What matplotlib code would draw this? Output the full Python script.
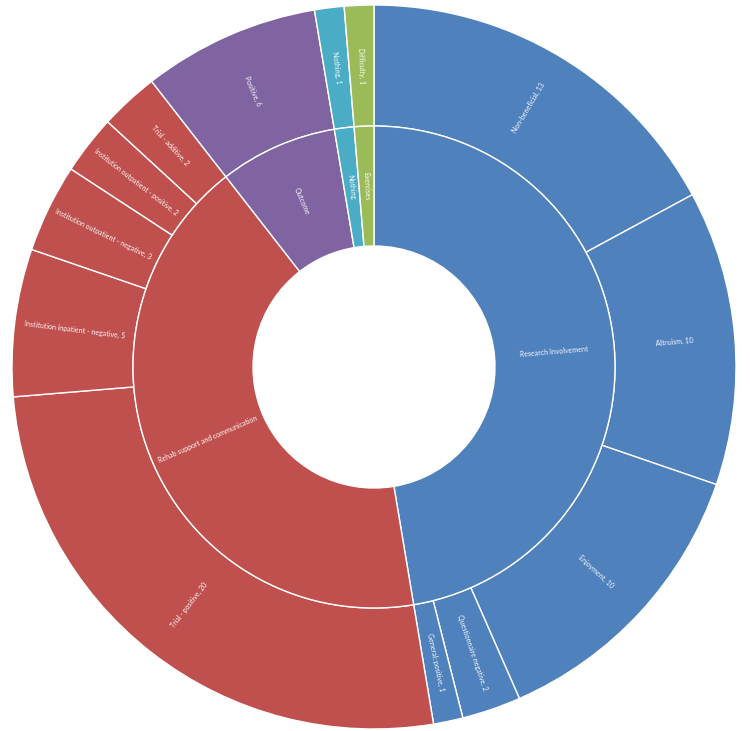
import numpy as np
import matplotlib
matplotlib.use('Agg')
import matplotlib.pyplot as plt

# Inner ring (themes)
themes = ['Research Involvement', 'Rehab support and communication',
          'Outcome', 'Nothing', 'Exercises']
theme_colors = ['#4F81BD', '#C0504D', '#8064A2', '#4BACC6', '#9BBB59']

# Outer ring (sub-themes), grouped by theme in drawing order
sub_labels = ['Non-beneficial', 'Altruism', 'Enjoyment', 'Questionnaire negative',
              'General: positive',
              'Trial - positive', 'Institution inpatient - negative',
              'Institution outpatient - negative', 'Institution outpatient - positive',
              'Trial - additive',
              'Positive', 'Nothing', 'Difficulty']
sub_values = [13, 10, 10, 2, 1, 20, 5, 3, 2, 2, 6, 1, 1]
sub_theme = [0, 0, 0, 0, 0, 1, 1, 1, 1, 1, 2, 3, 4]

theme_values = [sum(v for v, t in zip(sub_values, sub_theme) if t == i)
                for i in range(len(themes))]

plt.rcParams['font.family'] = ['Lato', 'DejaVu Sans']

fig = plt.figure(figsize=(7.5, 7.31), dpi=100)
ax = fig.add_axes([0, 0, 1, 1])

R = 362.0
r_mid = 241.0
r_hole = 121.0

wedge_kw = dict(edgecolor='white', linewidth=1.0, antialiased=True)

outer, _ = ax.pie(sub_values, radius=1.0, startangle=90, counterclock=False,
                  colors=[theme_colors[t] for t in sub_theme],
                  wedgeprops=dict(width=(R - r_mid) / R, **wedge_kw))
inner, _ = ax.pie(theme_values, radius=r_mid / R, startangle=90, counterclock=False,
                  colors=theme_colors,
                  wedgeprops=dict(width=(r_mid - r_hole) / R, **wedge_kw))


def radial_label(wedge, text, radius):
    ang = (wedge.theta1 + wedge.theta2) / 2.0
    x = radius * np.cos(np.radians(ang))
    y = radius * np.sin(np.radians(ang))
    rot = ang
    while rot > 90:
        rot -= 180
    while rot <= -90:
        rot += 180
    ax.text(x, y, text, rotation=rot, rotation_mode='anchor',
            ha='center', va='center', fontsize=5, color='white', alpha=0.95)


for w, name in zip(inner, themes):
    radial_label(w, name, (r_mid + r_hole) / 2 / R)

for w, name, v in zip(outer, sub_labels, sub_values):
    radial_label(w, f'{name}, {v}', (R + r_mid) / 2 / R)

ax.set_aspect('equal')
ax.set_xlim(-374 / R, 376 / R)
ax.set_ylim(-364 / R, 367 / R)
ax.axis('off')

fig.savefig('out.png', dpi=100)
